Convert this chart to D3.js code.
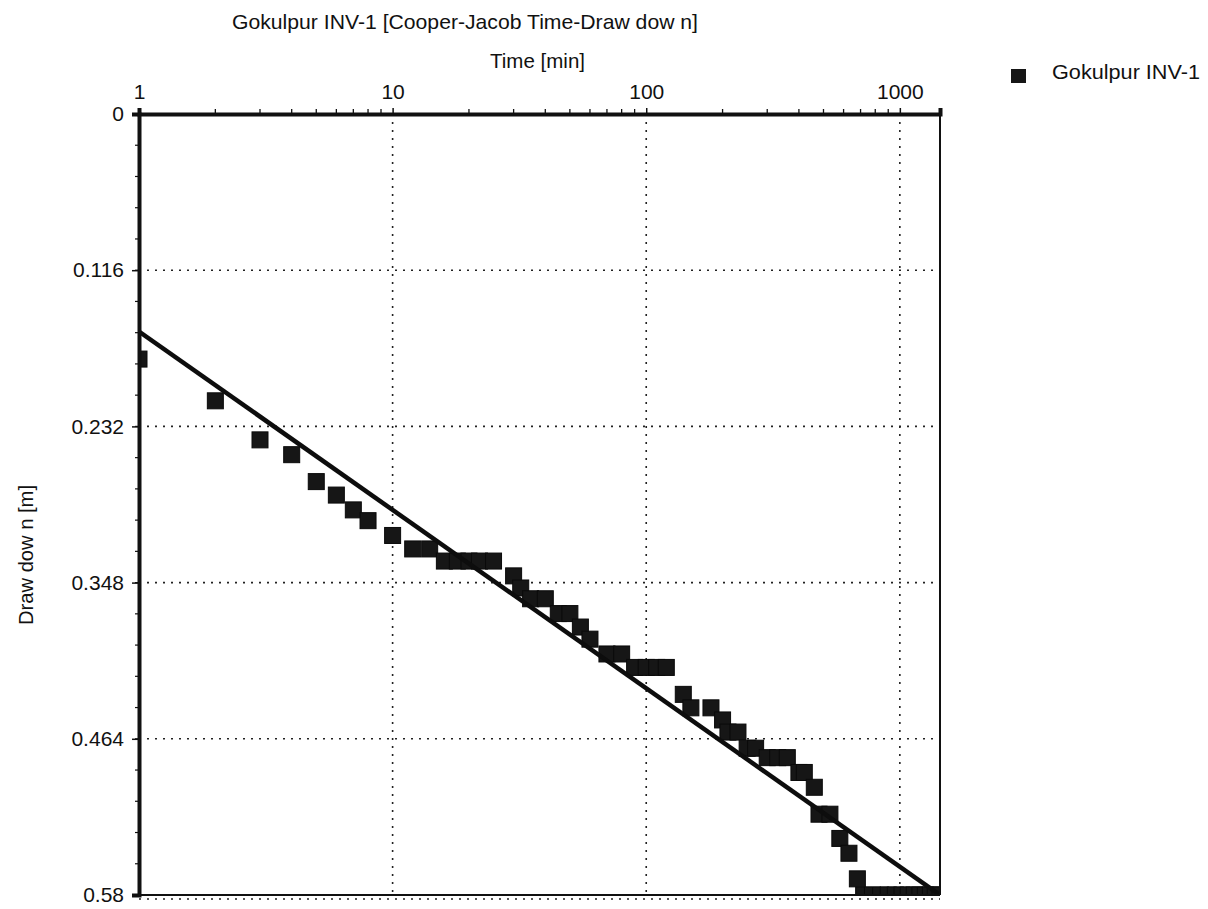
<!DOCTYPE html>
<html>
<head>
<meta charset="utf-8">
<script src="https://cdn.jsdelivr.net/npm/d3@7"></script>
<style>
  html, body { margin: 0; padding: 0; background: #fff; }
  svg { display: block; font-family: "Liberation Sans", Arial, sans-serif; }
</style>
</head>
<body>
<svg id="chart" width="1208" height="909"></svg>
<script>
// ---- data ----
const times = [1,2,3,4,5,6,7,8,10,12,14,16,18,20,22,25,30,32,35,40,45,50,55,60,70,80,
  90,100,110,120,140,150,180,200,210,230,250,270,300,330,360,400,420,460,480,530,580,630,680,
  720,780,840,900,960,1020,1080,1140,1200,1260,1320,1380,1440];
const drawdown = [0.182,0.213,0.242,0.253,0.273,0.283,0.294,0.302,0.313,0.323,0.323,
  0.332,0.332,0.332,0.332,0.332,0.343,0.352,0.360,0.360,0.371,0.371,0.381,0.390,0.401,0.401,
  0.411,0.411,0.411,0.411,0.431,0.441,0.441,0.450,0.459,0.459,0.471,0.471,0.478,0.478,0.478,
  0.489,0.489,0.500,0.520,0.520,0.538,0.549,0.568,
  0.58,0.58,0.58,0.58,0.58,0.58,0.58,0.58,0.58,0.58,0.58,0.58,0.58];
const fitTime = [1, 1440];
const fitDrawdown = [0.1615, 0.58];
const xMajorTicks = [1, 10, 100, 1000];
const xMinorTicks = [2,3,4,5,6,7,8,9,20,30,40,50,60,70,80,90,200,300,400,500,600,700,800,900];
const yMajorTicks = [0, 0.116, 0.232, 0.348, 0.464, 0.58];
const yTickLabels = ["0", "0.116", "0.232", "0.348", "0.464", "0.58"];
const yMinorTicks = d3.range(0, 26).map(i => +(i * 0.0232).toFixed(4));
const seriesName = "Gokulpur INV-1";
const titleText = "Gokulpur INV-1 [Cooper-Jacob Time-Draw dow n]";
const xTitle = "Time [min]";
const yTitle = "Draw dow n [m]";

// ---- layout ----
const L = 139, R = 940, T = 114, B = 895;
const svg = d3.select("#chart");
const x = d3.scaleLog().domain([1, 1440]).range([L, R]);
const y = d3.scaleLinear().domain([0, 0.58]).range([T, B]);

svg.append("defs").append("clipPath").attr("id", "plotclip")
  .append("rect").attr("x", L).attr("y", T).attr("width", R - L).attr("height", B - T);

// gridlines
const grid = svg.append("g").attr("stroke", "#222").attr("stroke-width", 1.6)
  .attr("stroke-dasharray", "2,6");
grid.selectAll("line.v").data(xMajorTicks.slice(1)).join("line")
  .attr("x1", d => x(d)).attr("x2", d => x(d)).attr("y1", T).attr("y2", B);
grid.selectAll("line.h").data(yMajorTicks.slice(1, -1)).join("line")
  .attr("x1", L).attr("x2", R).attr("y1", d => y(d)).attr("y2", d => y(d));
grid.append("line").attr("x1", L).attr("x2", R).attr("y1", y(0.58) + 4).attr("y2", y(0.58) + 4);

// data squares
const pts = times.map((t, i) => ({ t, s: drawdown[i] }));
const sq = 16;
svg.append("g").attr("clip-path", "url(#plotclip)")
  .selectAll("rect").data(pts).join("rect")
  .attr("x", d => x(d.t) - sq / 2).attr("y", d => y(d.s) - sq / 2)
  .attr("width", sq).attr("height", sq)
  .attr("fill", "#161616").attr("stroke", "#0a0a0a").attr("stroke-width", 1);

// fit line
svg.append("g").attr("clip-path", "url(#plotclip)")
  .append("path")
  .datum(fitTime.map((t, i) => [t, fitDrawdown[i]]))
  .attr("d", d3.line().x(d => x(d[0])).y(d => y(d[1])))
  .attr("fill", "none").attr("stroke", "#0d0d0d").attr("stroke-width", 4.5);

// frame right & bottom
svg.append("line").attr("x1", R).attr("x2", R).attr("y1", T).attr("y2", B)
  .attr("stroke", "#111").attr("stroke-width", 2);
svg.append("line").attr("x1", L).attr("x2", R).attr("y1", B).attr("y2", B)
  .attr("stroke", "#111").attr("stroke-width", 2);

// top axis
const xAxis = svg.append("g").attr("transform", `translate(0,${T})`)
  .call(d3.axisTop(x).tickValues(xMajorTicks).tickFormat(d3.format("d"))
    .tickSize(6).tickPadding(9));
xAxis.select(".domain").attr("stroke", "#111").attr("stroke-width", 4);
xAxis.selectAll(".tick line").attr("stroke", "#111").attr("stroke-width", 1.5);
xAxis.selectAll(".tick text").attr("font-size", 21).attr("fill", "#111")
  .attr("font-family", "'Liberation Sans', Arial, sans-serif");
xAxis.selectAll("line.minor").data(xMinorTicks).join("line").attr("class", "minor")
  .attr("x1", d => x(d)).attr("x2", d => x(d)).attr("y1", 0).attr("y2", -5)
  .attr("stroke", "#111").attr("stroke-width", 1.3);

// left axis
const yAxis = svg.append("g").attr("transform", `translate(${L},0)`)
  .call(d3.axisLeft(y).tickValues(yMajorTicks).tickFormat((d, i) => yTickLabels[i])
    .tickSize(7).tickPadding(8));
yAxis.select(".domain").attr("stroke", "#111").attr("stroke-width", 4);
yAxis.selectAll(".tick line").attr("stroke", "#111").attr("stroke-width", 1.5);
yAxis.selectAll(".tick text").attr("font-size", 21).attr("fill", "#111")
  .attr("font-family", "'Liberation Sans', Arial, sans-serif");
yAxis.selectAll("line.minor").data(yMinorTicks).join("line").attr("class", "minor")
  .attr("y1", d => y(d)).attr("y2", d => y(d)).attr("x1", 0).attr("x2", -4)
  .attr("stroke", "#111").attr("stroke-width", 1.2);

// titles
svg.append("text").attr("x", 232).attr("y", 29).attr("font-size", 21)
  .attr("textLength", 466).attr("lengthAdjust", "spacingAndGlyphs")
  .attr("fill", "#111").text(titleText);
svg.append("text").attr("x", 490).attr("y", 68).attr("font-size", 20)
  .attr("textLength", 95).attr("lengthAdjust", "spacingAndGlyphs")
  .attr("fill", "#111").text(xTitle);
svg.append("text").attr("transform", "translate(33,555) rotate(-90)")
  .attr("text-anchor", "middle").attr("font-size", 20)
  .attr("textLength", 140).attr("lengthAdjust", "spacingAndGlyphs")
  .attr("x", 0).attr("y", 0).attr("fill", "#111").text(yTitle);

// legend
svg.append("rect").attr("x", 1011).attr("y", 69).attr("width", 15).attr("height", 14)
  .attr("fill", "#161616");
svg.append("text").attr("x", 1052).attr("y", 79).attr("font-size", 20)
  .attr("textLength", 148).attr("lengthAdjust", "spacingAndGlyphs")
  .attr("fill", "#111").text(seriesName);
</script>
</body>
</html>
